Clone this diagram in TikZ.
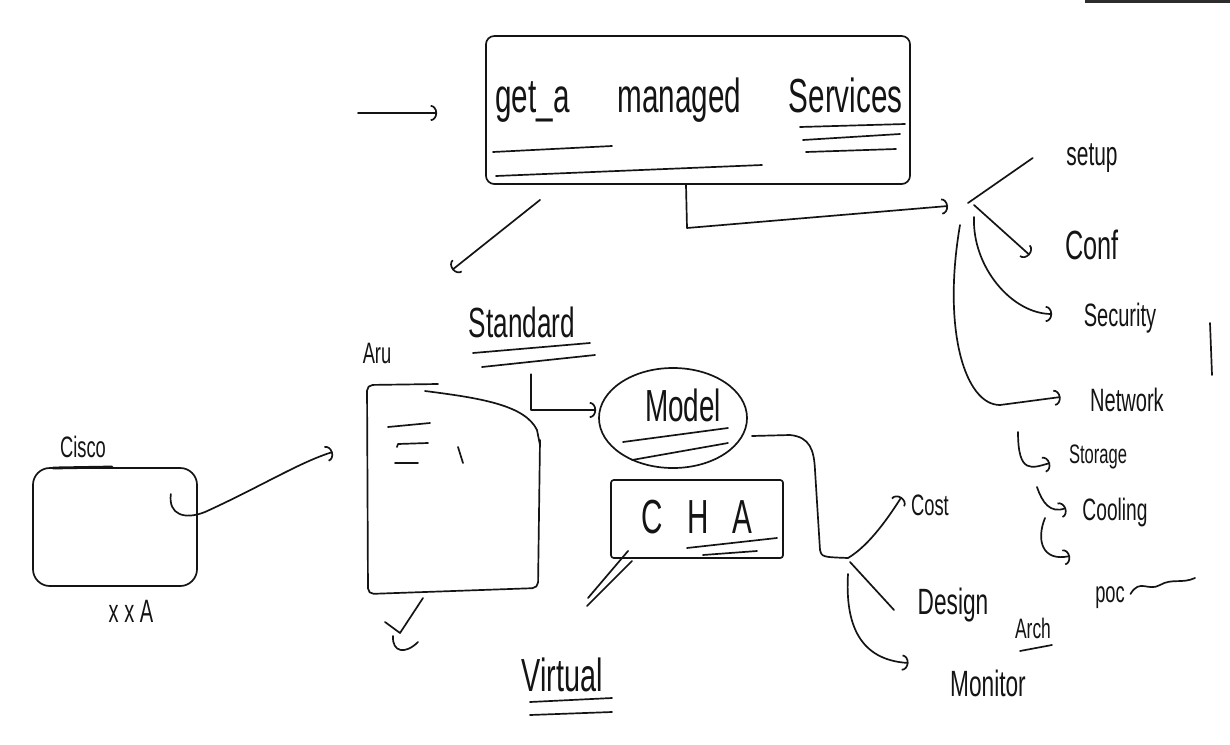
\documentclass[tikz,border=0pt]{standalone}
\usepackage{fontspec}
\usepackage{tikz}
\usetikzlibrary{arrows.meta,positioning,shapes.geometric,calc}
\newfontfamily\handfont[FakeStretch=0.62]{Liberation Sans}
\definecolor{inkCol}{RGB}{20,20,20}
\definecolor{barCol}{RGB}{45,45,45}
\newcommand{\handsize}[1]{\fontsize{#1}{#1}\selectfont}
\tikzset{
  ink/.style={draw=inkCol,line width=1.2pt,line cap=round,line join=round},
  hand/.style={font=\handfont\handsize{#1},text=inkCol,inner sep=1pt},
  hand/.default=20,
  flow/.style={ink,-{Arc Barb[length=1.6mm,width=4mm]}},
  sketchbox/.style={ink,rounded corners=6pt},
}

\begin{document}
\begin{tikzpicture}[x=0.025cm,y=-0.025cm]
  \useasboundingbox[fill=white] (0,0) rectangle (1230,744);
  \fill[barCol] (1085,0) rectangle (1230,3);

  % top box
  \node[sketchbox,minimum width=106mm,minimum height=37mm] (main) at (698,110) {};
  \node[hand=34] (mtxt) at (699,100) {get\_a\quad managed\quad Services};
  \draw[ink] (493,152) -- (612,146) (496,176) -- (762,165)
             (800,127) -- (905,124) (803,140) -- (900,134) (806,152) -- (896,149);
  \coordinate (in) at (358,113);
  \draw[flow] (in) -- ($(main.west)+(-48,3)$);

  % services branch
  \coordinate (hub) at (962,205);
  \node[hand=24] (setup) at (1092,158) {setup};
  \node[hand=29] (conf) at (1092,245) {Conf};
  \node[hand=23] (secu) at (1120,318) {Security};
  \node[hand=23] (netw) at (1127,400) {Network};
  \node[hand=19] (stor) at (1098,457) {Storage};
  \node[hand=22] (cool) at (1115,512) {Cooling};
  \draw[flow] ($(main.south)+(-12,0)$) -- (687,228) -- ($(hub)+(-14,1)$);
  \draw[ink] ($(hub)+(6,-2)$) -- ($(setup.west)+(-32,0)$);
  \draw[flow] ($(hub)+(12,0)$) -- ($(conf.west)+(-34,10)$);
  \draw[flow] ($(hub)+(12,12)$) .. controls +(-2,50) and +(-40,0) .. ($(secu.west)+(-30,-4)$);
  \draw[flow] ($(hub)+(-2,20)$) .. controls (942,330) and (965,405) .. (1000,405)
              -- ($(netw.west)+(-28,-3)$);
  \draw[ink] (1210,323) -- (1212,375);
  \draw[flow] (1018,432) .. controls (1018,475) and (1032,468) .. (1050,463);
  \draw[flow] (1037,487) .. controls (1042,502) and (1050,514) .. (1066,508);
  \draw[flow] (1045,518) .. controls (1036,540) and (1042,562) .. (1070,556);

  % standard / model
  \node[hand=30] (std) at (522,322) {Standard};
  \draw[ink] (473,353) -- (590,343) (482,367) -- (595,355);
  \draw[flow] ($(main.south west)+(55,15)$) -- ($(std.north west)+(-15,-35)$);
  \node[ink,ellipse,minimum width=37mm,minimum height=25mm] (model) at (673,418) {};
  \node[hand=32] (mlbl) at ($(model.center)+(10,-13)$) {Model};
  \draw[ink] (623,442) -- (728,428) (632,460) -- (728,443);
  \draw[flow] ($(std.south)+(9,35)$) |- ($(model.west)+(-2,-8)$);

  % model fork
  \coordinate (fork) at (848,558);
  \node[hand=21] (cost) at (930,505) {Cost};
  \node[hand=26] (design) at (953,605) {Design};
  \node[hand=26] (monitor) at (988,683) {Monitor};
  \node[hand=20] (arch) at (1033,628) {Arch};
  \node[hand=21] (poc) at (1110,598) {poc};
  \draw[ink] ($(model.east)+(4,18)$) -- (790,435) .. controls (810,437) and (814,450) .. (815,470)
             -- (820,550) .. controls (822,557) .. (fork);
  \draw[flow] (fork) .. controls (870,545) and (890,515) .. ($(cost.west)+(-8,-8)$);
  \draw[ink] ($(fork)+(2,4)$) -- ($(design.west)+(-22,5)$);
  \draw[flow] ($(fork)+(0,16)$) .. controls (845,625) and (860,660) .. ($(monitor.west)+(-40,-20)$);
  \draw[ink] (1020,651) -- (1052,645);
  \draw[ink] ($(poc.east)+(4,-4)$) .. controls (1140,578) and (1148,592) .. (1160,585)
             .. controls (1172,578) and (1182,584) .. (1195,578);

  % CHA / virtual
  \node[sketchbox,rounded corners=2pt,minimum width=43mm,minimum height=19.5mm] (cha) at (697,519) {};
  \node[hand=34] (chalbl) at ($(cha.center)+(0,-2)$) {C\enspace H\enspace A};
  \draw[ink] (687,548) -- (777,538) (703,555) -- (757,551);
  \draw[ink] ($(cha.south west)+(18,-8)$) -- (588,598);
  \draw[ink] ($(cha.south west)+(22,2)$) -- (587,606);
  \node[hand=33] (virt) at (562,675) {Virtual};
  \draw[ink] (530,702) -- (612,698) (530,715) -- (612,712);

  % arm box
  \node (arm) at (454,489) [minimum width=43mm,minimum height=52mm] {};
  \node[hand=21] (armlbl) at (377,353) {Aru};
  \draw[ink,rounded corners=4pt] (438,384) -- (367,385) -- (368,594) -- (538,588) -- (540,440);
  \draw[ink] (425,391) .. controls (480,398) and (525,405) .. (537,430) -- (540,445);
  \draw[ink] (388,427) -- (430,423) (428,443) -- (398,444) -- (397,447)
             (395,463) -- (418,463) (458,447) -- (463,463);
  \draw[ink] (385,622) -- (400,633) -- (423,598);
  \draw[ink] (393,636) .. controls (392,652) and (405,655) .. (418,642);

  % cisco box
  \node[sketchbox,rounded corners=12pt,minimum width=41mm,minimum height=29.5mm] (cisco) at (115,527) {};
  \node[hand=21,above=2mm of cisco.north,xshift=-8mm] (ciscolbl) {Cisco};
  \node[hand=23,below=3mm of cisco.south,xshift=4mm] (ciscoxx) {x x A};
  \draw[ink,line width=2pt] (53,468) -- (112,467);
  \draw[flow] ($(cisco.east)+(-27,-33)$) .. controls (168,515) and (185,520) .. (205,512)
              .. controls (260,487) and (300,462) .. ($(arm.west)+(-35,-37)$);
\end{tikzpicture}
\end{document}
